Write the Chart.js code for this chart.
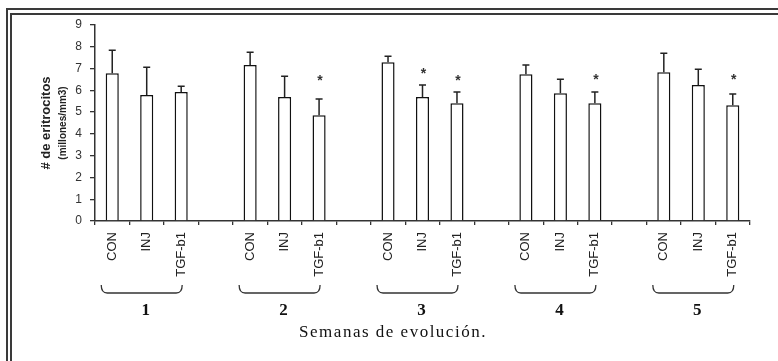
<!DOCTYPE html>
<html>
<head>
<meta charset="utf-8">
<script src="https://cdn.jsdelivr.net/npm/chart.js@4/dist/chart.umd.min.js"></script>
<style>
html,body{margin:0;padding:0;background:#fff;}
#wrap{width:778px;height:361px;}
</style>
</head>
<body>
<div id="wrap"><canvas id="c" width="778" height="361"></canvas></div>
<script>
// ---- data ----
const weeks = ['1', '2', '3', '4', '5'];
const treatments = ['CON', 'INJ', 'TGF-b1'];
const meanValues = [
  6.79, 5.78, 5.92,
  7.16, 5.69, 4.86,
  7.29, 5.69, 5.41,
  6.74, 5.87, 5.41,
  6.83, 6.24, 5.32
];
const errorTops = [
  7.84, 7.06, 6.19,
  7.75, 6.65, 5.60,
  7.57, 6.24, 5.92,
  7.16, 6.51, 5.92,
  7.70, 6.97, 5.83
];
const starLevels = [
  null, null, null,
  null, null, 6.55,
  null, 6.88, 6.55,
  null, null, 6.60,
  null, null, 6.60
];
const yTicks = [0, 1, 2, 3, 4, 5, 6, 7, 8, 9];
const yTitle = '# de eritrocitos';
const ySubTitle = '(millones/mm3)';
const xTitle = 'Semanas de evolución.';

// ---- build category slots (one empty slot between weeks) ----
const labels = [], values = [], errs = [], stars = [], groupOf = [];
weeks.forEach((w, gi) => {
  treatments.forEach((t, ti) => {
    const k = gi * treatments.length + ti;
    labels.push(t); values.push(meanValues[k]); errs.push(errorTops[k]);
    stars.push(starLevels[k]); groupOf.push(gi);
  });
  if (gi < weeks.length - 1) {
    labels.push(''); values.push(null); errs.push(null); stars.push(null); groupOf.push(null);
  }
});

const INK = '#222';

const decor = {
  id: 'decor',
  beforeDraw(chart) {
    const ctx = chart.ctx;
    ctx.save();
    ctx.fillStyle = '#fff';
    ctx.fillRect(0, 0, chart.width, chart.height);
    // double frame (top and left)
    ctx.strokeStyle = '#3a3a3a';
    ctx.lineWidth = 2;
    ctx.beginPath();
    ctx.moveTo(6, 9); ctx.lineTo(778, 9);
    ctx.moveTo(10, 14); ctx.lineTo(778, 14);
    ctx.moveTo(7, 8); ctx.lineTo(7, 361);
    ctx.moveTo(11, 13); ctx.lineTo(11, 361);
    ctx.stroke();
    ctx.restore();
  },
  afterDatasetsDraw(chart) {
    const ctx = chart.ctx;
    const meta = chart.getDatasetMeta(0);
    const ys = chart.scales.y;
    ctx.save();
    // error bars
    ctx.strokeStyle = INK;
    ctx.lineWidth = 1.5;
    meta.data.forEach((el, i) => {
      if (values[i] == null) return;
      const x = el.x;
      const yb = ys.getPixelForValue(values[i]);
      const yt = ys.getPixelForValue(errs[i]);
      ctx.beginPath();
      ctx.moveTo(x, yb); ctx.lineTo(x, yt);
      ctx.moveTo(x - 3.5, yt); ctx.lineTo(x + 3.5, yt);
      ctx.stroke();
    });
    // significance stars
    ctx.fillStyle = '#333';
    ctx.font = 'bold 14px "Liberation Sans", Arial, sans-serif';
    ctx.textAlign = 'center';
    ctx.textBaseline = 'middle';
    meta.data.forEach((el, i) => {
      if (stars[i] == null) return;
      ctx.fillText('*', el.x + 1, ys.getPixelForValue(stars[i]) + 3);
    });
    ctx.restore();
  },
  afterDraw(chart) {
    const ctx = chart.ctx;
    const meta = chart.getDatasetMeta(0);
    ctx.save();
    // braces and week numbers
    weeks.forEach((w, gi) => {
      const idx = groupOf.map((g, i) => g === gi ? i : -1).filter(i => i >= 0);
      const xa = meta.data[idx[0]].x - 11;
      const xb = meta.data[idx[idx.length - 1]].x + 1;
      const y0 = 285, y1 = 293;
      ctx.strokeStyle = '#333';
      ctx.lineWidth = 1.3;
      ctx.beginPath();
      ctx.moveTo(xa, y0);
      ctx.quadraticCurveTo(xa, y1, xa + 6, y1);
      ctx.lineTo(xb - 6, y1);
      ctx.quadraticCurveTo(xb, y1, xb, y0);
      ctx.stroke();
      const xc = (meta.data[idx[0]].x + meta.data[idx[idx.length - 1]].x) / 2;
      ctx.fillStyle = '#111';
      ctx.font = 'bold 17px "Liberation Serif", "Times New Roman", serif';
      ctx.textAlign = 'center';
      ctx.textBaseline = 'alphabetic';
      ctx.fillText(w, xc - 1, 315);
    });
    // x title
    ctx.fillStyle = '#111';
    ctx.font = '17px "Liberation Serif", "Times New Roman", serif';
    ctx.textAlign = 'center';
    ctx.letterSpacing = '1.5px';
    ctx.fillText(xTitle, 393, 337);
    ctx.letterSpacing = '0px';
    // y titles
    ctx.translate(50, 123);
    ctx.rotate(-Math.PI / 2);
    ctx.textAlign = 'center';
    ctx.textBaseline = 'alphabetic';
    ctx.font = 'bold 13px "Liberation Sans", Arial, sans-serif';
    ctx.fillStyle = '#222';
    ctx.fillText(yTitle, 0, 0);
    ctx.font = 'bold 10px "Liberation Sans", Arial, sans-serif';
    ctx.fillText(ySubTitle, 0, 16);
    ctx.restore();
  }
};

new Chart(document.getElementById('c'), {
  type: 'bar',
  data: {
    labels: labels,
    datasets: [{
      data: values,
      backgroundColor: '#ffffff',
      borderColor: '#111',
      borderWidth: 1.5,
      borderSkipped: 'bottom',
      barPercentage: 0.38,
      categoryPercentage: 1.0
    }]
  },
  options: {
    responsive: false,
    animation: false,
    devicePixelRatio: 1,
    layout: { padding: { top: 25, right: 28, left: 0, bottom: 0 } },
    plugins: { legend: { display: false }, tooltip: { enabled: false } },
    scales: {
      x: {
        offset: true,
        grid: { offset: true, drawOnChartArea: false, drawTicks: true, tickLength: 4, color: '#333', lineWidth: 1.3 },
        border: { color: '#333', width: 1.5 },
        ticks: {
          autoSkip: false, maxRotation: 90, minRotation: 90, padding: 7,
          color: '#222', font: { family: '"Liberation Sans", Arial, sans-serif', size: 13 }
        },
        afterFit(s) { s.height = 140; }
      },
      y: {
        min: 0, max: 9,
        afterBuildTicks(s) { s.ticks = yTicks.map(v => ({ value: v })); },
        grid: { drawOnChartArea: false, drawTicks: true, tickLength: 5, color: '#333', lineWidth: 1.3 },
        border: { color: '#333', width: 1.5 },
        ticks: {
          padding: 8, color: '#333',
          font: { family: '"Liberation Sans", Arial, sans-serif', size: 12 }
        },
        afterFit(s) { s.width = 95; }
      }
    }
  },
  plugins: [decor]
});
</script>
</body>
</html>
